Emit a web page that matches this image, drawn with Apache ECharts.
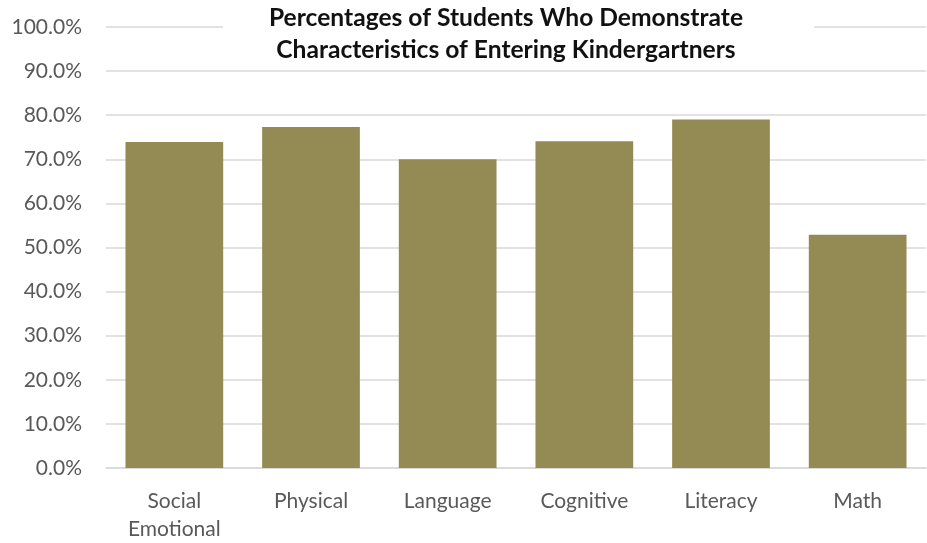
<!DOCTYPE html>
<html>
<head>
<meta charset="utf-8">
<script src="https://cdn.jsdelivr.net/npm/echarts@6/dist/echarts.min.js"></script>
<style>html,body{margin:0;padding:0;background:#fff}#c{width:927px;height:543px}</style>
</head>
<body>
<div id="c"></div>
<script>
const titleText = 'Percentages of Students Who Demonstrate\nCharacteristics of Entering Kindergartners';
const categories = ['Social\nEmotional', 'Physical', 'Language', 'Cognitive', 'Literacy', 'Math'];
const values = [73.9, 77.3, 70.0, 74.1, 79.0, 52.9];
const yTicks = { min: 0, max: 100, interval: 10 };

const chart = echarts.init(document.getElementById('c'), null, { renderer: 'canvas' });
chart.setOption({
  animation: false,
  backgroundColor: '#fff',
  graphic: [{
    type: 'rect', left: 223, top: 0, z: 5,
    shape: { width: 591, height: 64 },
    style: { fill: '#fff' }
  }],
  title: {
    text: titleText,
    left: 506,
    top: 2,
    padding: 0,
    z: 10,
    textAlign: 'center',
    textStyle: { fontFamily: 'Lato', fontWeight: 'bold', fontSize: 24.6, color: '#111', lineHeight: 32 }
  },
  grid: { left: 106, right: 1, top: 27, bottom: 70, containLabel: false },
  xAxis: {
    type: 'category',
    data: categories,
    axisTick: { show: false },
    axisLine: { lineStyle: { color: '#D9D9D9', width: 1.5 } },
    axisLabel: { color: '#595959', fontFamily: 'Lato', fontSize: 21, lineHeight: 28, margin: 19, interval: 0 }
  },
  yAxis: {
    type: 'value',
    min: yTicks.min, max: yTicks.max, interval: yTicks.interval,
    axisLine: { show: false },
    axisTick: { show: false },
    splitLine: { lineStyle: { color: '#D9D9D9', width: 1.5 } },
    axisLabel: { color: '#595959', fontFamily: 'Lato', fontSize: 21, margin: 24, formatter: v => v.toFixed(1) + '%' }
  },
  series: [{
    type: 'bar',
    data: values,
    barCategoryGap: '28.5%',
    itemStyle: { color: '#948A54' }
  }]
});
</script>
</body>
</html>
